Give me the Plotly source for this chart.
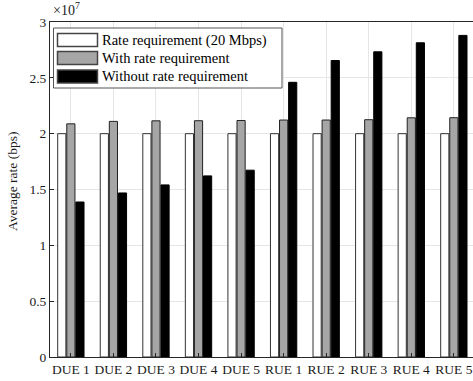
import plotly.graph_objects as go

categories = ["DUE 1", "DUE 2", "DUE 3", "DUE 4", "DUE 5",
              "RUE 1", "RUE 2", "RUE 3", "RUE 4", "RUE 5"]
rate_req = [2.0e7] * 10
with_req = [2.088e7, 2.11e7, 2.115e7, 2.116e7, 2.118e7,
            2.122e7, 2.122e7, 2.125e7, 2.142e7, 2.143e7]
without_req = [1.388e7, 1.469e7, 1.541e7, 1.622e7, 1.673e7,
               2.46e7, 2.655e7, 2.733e7, 2.814e7, 2.88e7]
series_names = ["Rate requirement (20 Mbps)", "With rate requirement",
                "Without rate requirement"]
ytick_vals = [0, 0.5e7, 1.0e7, 1.5e7, 2.0e7, 2.5e7, 3.0e7]
ytick_text = ["0", "0.5", "1", "1.5", "2", "2.5", "3"]

W, H = 473, 381
ML, MR, MT, MB = 50, 0, 22, 24
FONT = "Liberation Serif"
TXT = "#1a1a1a"
fills = ["#ffffff", "#a6a6a6", "#000000"]
lines = ["#333333", "#222222", "#000000"]

fig = go.Figure()
for name, vals, fc, lc in zip(series_names, [rate_req, with_req, without_req], fills, lines):
    fig.add_trace(go.Bar(x=categories, y=vals, name=name,
                         marker=dict(color=fc, line=dict(color=lc, width=1)),
                         showlegend=False, hoverinfo="skip"))

fig.update_layout(
    width=W, height=H,
    margin=dict(l=ML, r=MR, t=MT, b=MB, pad=0, autoexpand=False),
    paper_bgcolor="white", plot_bgcolor="white",
    barmode="group", bargap=0.36, bargroupgap=0.1,
    font=dict(family=FONT, size=13, color=TXT),
    xaxis=dict(type="category", range=[-0.49, 9.45], automargin=False,
               showline=True, linecolor="#262626", linewidth=1, mirror=True,
               ticks="inside", ticklen=4, tickcolor="#262626",
               showgrid=True, gridcolor="#e6e6e6", gridwidth=1,
               tickfont=dict(family=FONT, size=13.5, color=TXT), zeroline=False),
    yaxis=dict(range=[0, 3.0e7], tickvals=ytick_vals, ticktext=ytick_text, automargin=False,
               showline=True, linecolor="#262626", linewidth=1, mirror=False,
               ticks="inside", ticklen=4, tickcolor="#262626",
               showgrid=True, gridcolor="#e6e6e6", gridwidth=1,
               zeroline=False, tickfont=dict(family=FONT, size=13.5, color=TXT)),
    yaxis2=dict(range=[0, 3.0e7], tickvals=ytick_vals, overlaying="y", side="right",
                showticklabels=False, ticks="inside", ticklen=4, tickcolor="#262626",
                showgrid=False, showline=False, zeroline=False, automargin=False),
)

pw, ph = W - ML - MR, H - MT - MB
def px(x):
    return (x - ML) / pw
def py(y):
    return (H - MB - y) / ph

# y-axis title
fig.add_annotation(xref="paper", yref="paper", x=px(12), y=py(182), xanchor="center", yanchor="middle",
                   text="Average rate (bps)", textangle=-90, showarrow=False,
                   font=dict(family=FONT, size=13.5, color=TXT))

# exponent label
fig.add_annotation(xref="paper", yref="paper", x=px(51), y=py(20), xanchor="left", yanchor="bottom",
                   text="×10<sup>7</sup>", showarrow=False,
                   font=dict(family=FONT, size=14, color=TXT))

# custom legend (box + swatches + labels)
fig.add_shape(type="rect", xref="paper", yref="paper",
              x0=px(53.5), x1=px(282), y0=py(88), y1=py(28),
              line=dict(color="#555555", width=1), fillcolor="white", layer="above")
row_y = [40, 58, 76.5]
for name, fc, ry in zip(series_names, fills, row_y):
    fig.add_shape(type="rect", xref="paper", yref="paper",
                  x0=px(57.5), x1=px(97.5), y0=py(ry + 6.5), y1=py(ry - 6.5),
                  line=dict(color="#444444", width=1.5), fillcolor=fc, layer="above")
    fig.add_annotation(xref="paper", yref="paper", x=px(99.5), y=py(ry),
                       xanchor="left", yanchor="middle", text=name, showarrow=False,
                       font=dict(family=FONT, size=14.5, color="#000000"))

fig.write_html("out.html", config={"displayModeBar": False, "staticPlot": True},
               post_script="document.body.style.margin='0';document.body.style.overflow='hidden';")
